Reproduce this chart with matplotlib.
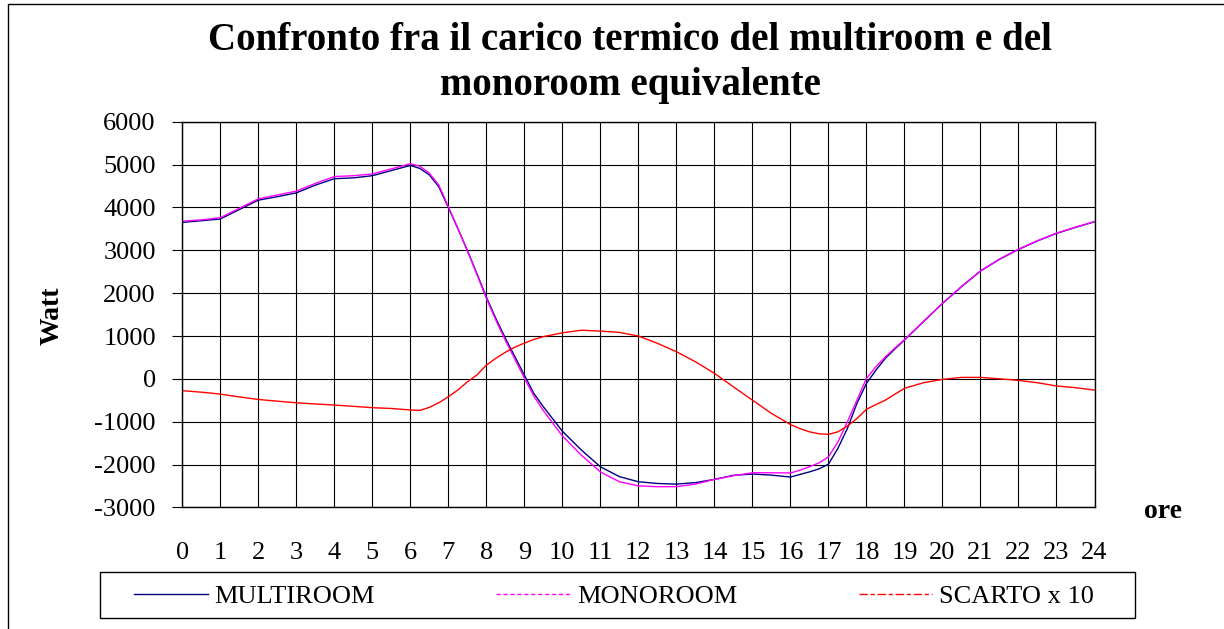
import matplotlib.pyplot as plt
from matplotlib.patches import Rectangle

# Hours of the day (denser sampling where the loads change fastest)
ore = [0, 0.5, 1, 1.5, 2, 2.5, 3, 3.5, 4, 4.5, 5, 5.5, 6,
       6.25, 6.5, 6.75, 7, 7.25, 7.5, 7.75, 8, 8.25, 8.5, 8.75, 9, 9.25, 9.5,
       10, 10.5, 11, 11.5, 12, 12.5, 13, 13.5, 14, 14.5, 15, 15.5, 16,
       16.25, 16.5, 16.75, 17, 17.25, 17.5, 17.75, 18, 18.25, 18.5, 18.75, 19,
       19.5, 20, 20.5, 21, 21.5, 22, 22.5, 23, 23.5, 24]

# Thermal load, W
multiroom = [3650, 3690, 3730, 3950, 4170, 4250, 4340, 4520, 4670, 4690, 4740, 4860, 4980,
             4910, 4760, 4480, 4000, 3510, 3000, 2460, 1910, 1410, 950, 520, 90, -340, -650,
             -1220, -1660, -2050, -2280, -2400, -2440, -2455, -2420, -2345, -2250, -2220, -2245, -2290,
             -2230, -2170, -2100, -1990, -1620, -1155, -570, -105, 205, 480, 700, 905,
             1335, 1760, 2150, 2515, 2790, 3020, 3220, 3395, 3535, 3665]

monoroom = [3680, 3710, 3760, 3980, 4200, 4290, 4380, 4560, 4720, 4740, 4780, 4900, 5020,
            4960, 4800, 4520, 4020, 3510, 2990, 2440, 1880, 1370, 900, 460, 20, -400, -740,
            -1330, -1780, -2170, -2400, -2495, -2515, -2515, -2455, -2345, -2260, -2190, -2190, -2195,
            -2130, -2050, -1960, -1820, -1470, -1000, -495, 10, 285, 515, 720, 915,
            1340, 1765, 2155, 2520, 2795, 3025, 3225, 3400, 3540, 3670]

scarto_x10 = [-275, -310, -355, -420, -480, -520, -557, -585, -610, -640, -672, -690, -725,
              -735, -665, -557, -417, -260, -70, 90, 320, 480, 620, 740, 835, 920, 985,
              1075, 1135, 1115, 1085, 1000, 830, 635, 400, 130, -185, -495, -805, -1065,
              -1160, -1235, -1280, -1295, -1235, -1100, -925, -710, -600, -495, -355, -220,
              -90, -12, 35, 35, 2, -35, -90, -165, -205, -260]

plt.rcParams['font.family'] = 'Liberation Serif'
plt.rcParams['axes.unicode_minus'] = False

W, H = 1224, 629
fig = plt.figure(figsize=(W / 100, H / 100), dpi=100)
ax = fig.add_axes([0.1489, 0.1932, 0.7453, 0.6133])

ax.plot(ore, multiroom, color='#000080', lw=1.0, label='MULTIROOM')
ax.plot(ore, monoroom, color='#FF00FF', lw=1.0, label='MONOROOM')
ax.plot(ore, scarto_x10, color='#FF0000', lw=1.0, label='SCARTO x 10')

ax.set_xlim(0, 24)
ax.set_ylim(-3000, 6000)
ax.set_xticks(range(0, 25))
ax.set_yticks(range(-3000, 6001, 1000))
ax.grid(True, color='black', lw=0.8)
ax.set_axisbelow(True)
for s in ax.spines.values():
    s.set_color('black')
    s.set_linewidth(1.0)
ax.tick_params(axis='y', direction='out', length=7, width=0.8, pad=12, labelsize=19)
ax.tick_params(axis='x', length=0, pad=25, labelsize=19)

fig.text(630 / W, 1 - 63 / H,
         'Confronto fra il carico termico del multiroom e del\nmonoroom equivalente',
         ha='center', va='center', fontsize=28, fontweight='bold', linespacing=1.3)
fig.text(52 / W, 1 - 316 / H, 'Watt', rotation=90, ha='center', va='center',
         fontsize=20, fontweight='bold')
fig.text(1163 / W, 1 - 512 / H, 'ore', ha='center', va='center',
         fontsize=20, fontweight='bold')

# legend entries, frame drawn separately
leg = fig.legend(loc='center', bbox_to_anchor=(614 / W, 1 - 596 / H), ncol=3,
                 fontsize=19, handlelength=2.8, handletextpad=0.25, columnspacing=4.6,
                 frameon=False)
leg_lines = leg.get_lines()
leg_lines[1].set_linestyle((0, (3, 2)))
leg_lines[2].set_linestyle((0, (6, 2, 3, 2)))
fig.add_artist(Rectangle((100 / W, 1 - 618 / H), 1035 / W, 46 / H, transform=fig.transFigure,
                         fill=False, edgecolor='black', lw=1.0))

# outer frame of the chart area
fig.add_artist(Rectangle((8 / W, -0.1), 1.2, 1.1 - 4 / H, transform=fig.transFigure,
                         fill=False, edgecolor='black', lw=1.0))

fig.savefig('out.png', dpi=100)
